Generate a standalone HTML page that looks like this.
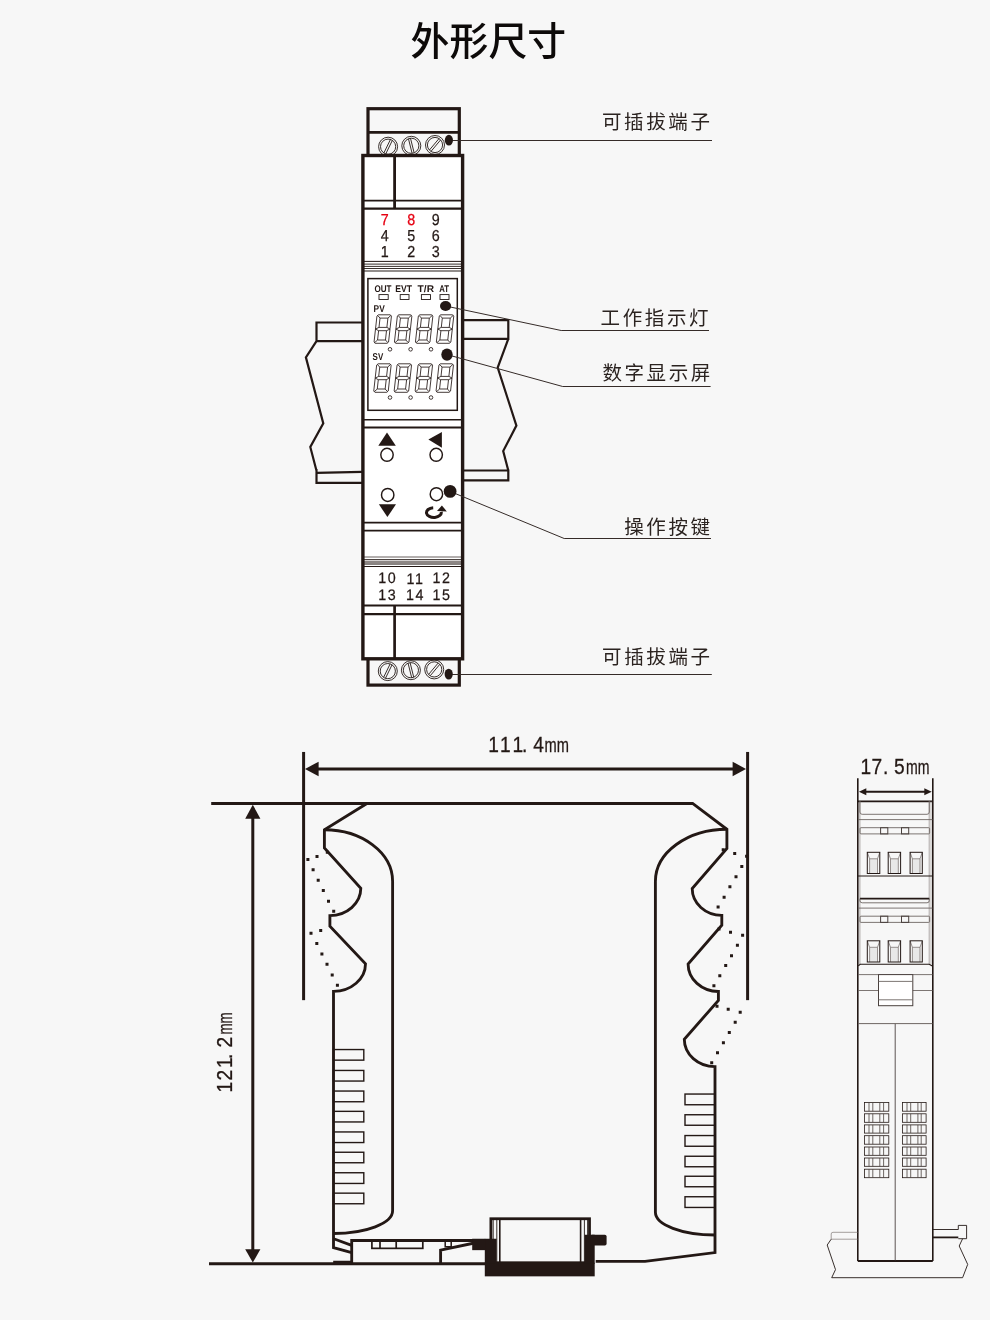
<!DOCTYPE html>
<html lang="zh-CN"><head><meta charset="utf-8"><title>外形尺寸</title>
<style>
html,body{margin:0;padding:0;background:#f7f7f7;}
body{width:990px;height:1320px;overflow:hidden;position:relative;font-family:"Liberation Sans","Noto Sans CJK SC",sans-serif;}
svg{position:absolute;left:0;top:0;display:block;will-change:transform;}
.t{font-family:"Liberation Sans","Noto Sans CJK SC",sans-serif;fill:#231815;}
.lab{font-family:"Liberation Sans","Noto Sans CJK SC",sans-serif;fill:#2b2320;font-size:19.5px;font-weight:400;letter-spacing:2.6px;}
.num{font-family:"Liberation Sans",sans-serif;fill:#231815;font-size:15.9px;stroke-width:0.25px;text-rendering:geometricPrecision;}
.dim{font-family:"Liberation Sans","Noto Sans CJK SC",sans-serif;fill:#231815;stroke:#231815;stroke-width:0.3px;font-size:22.3px;}
.led{font-family:"Liberation Sans",sans-serif;fill:#231815;font-weight:bold;font-size:9.7px;text-rendering:geometricPrecision;}
</style></head><body>
<svg width="990" height="1320" viewBox="0 0 990 1320">
<rect x="0" y="0" width="990" height="1320" fill="#f7f7f7"/>

<text class="t" x="488.4" y="54.7" text-anchor="middle" font-size="38.9" font-weight="500" style="fill:#0d0a09">外形尺寸</text>
<path d="M362,322.5 L316.5,322.5 L316.5,341.1 L362,341.1 M316.5,341.1 L305.9,357.4 L323.3,423.4 L310.3,447 L316.5,470.8 M362,471.9 L316.5,472.9 M316.5,469 L316.5,482.8 L362,482.8" stroke="#231815" stroke-width="2.2" fill="none" />
<path d="M464,320.2 L508.3,320.2 L508.3,338.9 L464,338.9 M508.3,338.9 L497.7,367.5 L516.4,425.6 L503.2,451.1 L508.3,470.5 M464,470.5 L508.3,470.5 L508.3,480.4 L464,480.4" stroke="#231815" stroke-width="2.2" fill="none" />
<rect x="368" y="108.7" width="91.3" height="47.3" stroke="#231815" stroke-width="3.2" fill="#f7f7f7" />
<line x1="368" y1="132.4" x2="459.3" y2="132.4" stroke="#231815" stroke-width="2.8" />
<rect x="368" y="657" width="91.3" height="28.1" stroke="#231815" stroke-width="3.2" fill="#f7f7f7" />
<circle cx="388.1" cy="146.7" r="9.5" fill="#f7f7f7" stroke="#231815" stroke-width="0.9"/>
<circle cx="388.1" cy="146.7" r="7.6" fill="none" stroke="#231815" stroke-width="0.9"/>
<line x1="383.91" y1="152.89" x2="390.4" y2="139.59" stroke="#231815" stroke-width="0.9" />
<line x1="385.8" y1="153.81" x2="392.29" y2="140.51" stroke="#231815" stroke-width="0.9" />
<circle cx="411.3" cy="145.8" r="9.5" fill="#f7f7f7" stroke="#231815" stroke-width="0.9"/>
<circle cx="411.3" cy="145.8" r="7.6" fill="none" stroke="#231815" stroke-width="0.9"/>
<line x1="412.07" y1="153.23" x2="408.49" y2="138.87" stroke="#231815" stroke-width="0.9" />
<line x1="414.11" y1="152.73" x2="410.53" y2="138.37" stroke="#231815" stroke-width="0.9" />
<circle cx="435" cy="145" r="9.5" fill="#f7f7f7" stroke="#231815" stroke-width="0.9"/>
<circle cx="435" cy="145" r="7.6" fill="none" stroke="#231815" stroke-width="0.9"/>
<line x1="429.44" y1="149.99" x2="438.95" y2="138.66" stroke="#231815" stroke-width="0.9" />
<line x1="431.05" y1="151.34" x2="440.56" y2="140.01" stroke="#231815" stroke-width="0.9" />
<circle cx="387.8" cy="671.1" r="9.5" fill="#f7f7f7" stroke="#231815" stroke-width="0.9"/>
<circle cx="387.8" cy="671.1" r="7.6" fill="none" stroke="#231815" stroke-width="0.9"/>
<line x1="383.61" y1="677.29" x2="390.1" y2="663.99" stroke="#231815" stroke-width="0.9" />
<line x1="385.5" y1="678.21" x2="391.99" y2="664.91" stroke="#231815" stroke-width="0.9" />
<circle cx="410.9" cy="670.2" r="9.5" fill="#f7f7f7" stroke="#231815" stroke-width="0.9"/>
<circle cx="410.9" cy="670.2" r="7.6" fill="none" stroke="#231815" stroke-width="0.9"/>
<line x1="411.67" y1="677.63" x2="408.09" y2="663.27" stroke="#231815" stroke-width="0.9" />
<line x1="413.71" y1="677.13" x2="410.13" y2="662.77" stroke="#231815" stroke-width="0.9" />
<circle cx="434.2" cy="669.4" r="9.5" fill="#f7f7f7" stroke="#231815" stroke-width="0.9"/>
<circle cx="434.2" cy="669.4" r="7.6" fill="none" stroke="#231815" stroke-width="0.9"/>
<line x1="428.64" y1="674.39" x2="438.15" y2="663.06" stroke="#231815" stroke-width="0.9" />
<line x1="430.25" y1="675.74" x2="439.76" y2="664.41" stroke="#231815" stroke-width="0.9" />
<rect x="362.9" y="155.5" width="99.7" height="503.3" stroke="#231815" stroke-width="0" fill="#fff" />
<line x1="394.6" y1="155" x2="394.6" y2="208.6" stroke="#231815" stroke-width="2.8" />
<line x1="363" y1="200.6" x2="462" y2="200.6" stroke="#231815" stroke-width="1.8" />
<line x1="363" y1="208.6" x2="462" y2="208.6" stroke="#231815" stroke-width="2.1" />
<g transform="translate(384.7,224.7) scale(0.9,1)"><text class="num" x="0" y="0" text-anchor="middle" style="font-size:15.9px;letter-spacing:0px;fill:#e60012;stroke:#e60012">7</text></g>
<g transform="translate(411.2,224.7) scale(0.9,1)"><text class="num" x="0" y="0" text-anchor="middle" style="font-size:15.9px;letter-spacing:0px;fill:#e60012;stroke:#e60012">8</text></g>
<g transform="translate(435.8,224.7) scale(0.9,1)"><text class="num" x="0" y="0" text-anchor="middle" style="font-size:15.9px;letter-spacing:0px;fill:#231815;stroke:#231815">9</text></g>
<g transform="translate(384.7,241.0) scale(0.9,1)"><text class="num" x="0" y="0" text-anchor="middle" style="font-size:15.9px;letter-spacing:0px;fill:#231815;stroke:#231815">4</text></g>
<g transform="translate(411.2,241.0) scale(0.9,1)"><text class="num" x="0" y="0" text-anchor="middle" style="font-size:15.9px;letter-spacing:0px;fill:#231815;stroke:#231815">5</text></g>
<g transform="translate(435.8,241.0) scale(0.9,1)"><text class="num" x="0" y="0" text-anchor="middle" style="font-size:15.9px;letter-spacing:0px;fill:#231815;stroke:#231815">6</text></g>
<g transform="translate(384.7,256.7) scale(0.9,1)"><text class="num" x="0" y="0" text-anchor="middle" style="font-size:15.9px;letter-spacing:0px;fill:#231815;stroke:#231815">1</text></g>
<g transform="translate(411.2,256.7) scale(0.9,1)"><text class="num" x="0" y="0" text-anchor="middle" style="font-size:15.9px;letter-spacing:0px;fill:#231815;stroke:#231815">2</text></g>
<g transform="translate(435.8,256.7) scale(0.9,1)"><text class="num" x="0" y="0" text-anchor="middle" style="font-size:15.9px;letter-spacing:0px;fill:#231815;stroke:#231815">3</text></g>
<line x1="363" y1="261.4" x2="462" y2="261.4" stroke="#231815" stroke-width="1.0" />
<line x1="363" y1="264.2" x2="462" y2="264.2" stroke="#5d5653" stroke-width="1.3" />
<line x1="363" y1="266.4" x2="462" y2="266.4" stroke="#231815" stroke-width="0.9" />
<line x1="363" y1="268.5" x2="462" y2="268.5" stroke="#231815" stroke-width="0.9" />
<line x1="363" y1="270.9" x2="462" y2="270.9" stroke="#6e6764" stroke-width="1.5" />
<rect x="367.9" y="278.6" width="89.4" height="131.7" stroke="#231815" stroke-width="1.5" fill="none" />
<text class="led" x="374.5" y="291.8" textLength="17.0" lengthAdjust="spacingAndGlyphs">OUT</text>
<text class="led" x="395.3" y="291.8" textLength="16.7" lengthAdjust="spacingAndGlyphs">EVT</text>
<text class="led" x="417.6" y="291.8" textLength="16.4" lengthAdjust="spacingAndGlyphs">T/R</text>
<text class="led" x="439.2" y="291.8" textLength="9.8" lengthAdjust="spacingAndGlyphs">AT</text>
<rect x="379" y="294.6" width="9.2" height="4.9" stroke="#231815" stroke-width="0.9" fill="none" />
<rect x="400.2" y="294.6" width="8.8" height="4.9" stroke="#231815" stroke-width="0.9" fill="none" />
<rect x="421.4" y="294.6" width="9.1" height="4.9" stroke="#231815" stroke-width="0.9" fill="none" />
<rect x="440" y="294.6" width="9" height="4.9" stroke="#231815" stroke-width="0.9" fill="none" />
<text class="led" x="373.6" y="311.9" textLength="11.1" lengthAdjust="spacingAndGlyphs" style="font-size:9.9px">PV</text>
<text class="led" x="372.6" y="359.9" textLength="10.6" lengthAdjust="spacingAndGlyphs" style="font-size:9.9px">SV</text>
<path d="M378.40,314.80 L390.30,314.80 L391.45,316.10 L390.09,328.27 L390.00,329.05 L388.55,342.00 L387.10,343.30 L375.20,343.30 L374.05,342.00 L375.50,329.05 L376.95,316.10Z M380.03,318.10 L387.93,318.10 L386.89,327.40 L378.99,327.40Z M378.61,330.70 L386.51,330.70 L385.47,340.00 L377.57,340.00Z M377.68,315.45 L380.03,318.10 M390.88,315.45 L387.93,318.10 M387.82,342.65 L385.47,340.00 M374.62,342.65 L377.57,340.00 M375.50,329.05 L378.99,327.40 M375.50,329.05 L378.61,330.70 M390.00,329.05 L386.89,327.40 M390.00,329.05 L386.51,330.70 " stroke="#231815" stroke-width="0.85" fill="none" stroke-linejoin="round"/>
<path d="M378.10,363.80 L390.00,363.80 L391.15,365.10 L389.79,377.27 L389.70,378.05 L388.25,391.00 L386.80,392.30 L374.90,392.30 L373.75,391.00 L375.20,378.05 L376.65,365.10Z M379.73,367.10 L387.63,367.10 L386.59,376.40 L378.69,376.40Z M378.31,379.70 L386.21,379.70 L385.17,389.00 L377.27,389.00Z M377.38,364.45 L379.73,367.10 M390.58,364.45 L387.63,367.10 M387.52,391.65 L385.17,389.00 M374.32,391.65 L377.27,389.00 M375.20,378.05 L378.69,376.40 M375.20,378.05 L378.31,379.70 M389.70,378.05 L386.59,376.40 M389.70,378.05 L386.21,379.70 " stroke="#231815" stroke-width="0.85" fill="none" stroke-linejoin="round"/>
<path d="M398.80,314.80 L410.70,314.80 L411.85,316.10 L410.49,328.27 L410.40,329.05 L408.95,342.00 L407.50,343.30 L395.60,343.30 L394.45,342.00 L395.90,329.05 L397.35,316.10Z M400.43,318.10 L408.33,318.10 L407.29,327.40 L399.39,327.40Z M399.01,330.70 L406.91,330.70 L405.87,340.00 L397.97,340.00Z M398.08,315.45 L400.43,318.10 M411.28,315.45 L408.33,318.10 M408.22,342.65 L405.87,340.00 M395.02,342.65 L397.97,340.00 M395.90,329.05 L399.39,327.40 M395.90,329.05 L399.01,330.70 M410.40,329.05 L407.29,327.40 M410.40,329.05 L406.91,330.70 " stroke="#231815" stroke-width="0.85" fill="none" stroke-linejoin="round"/>
<path d="M398.50,363.80 L410.40,363.80 L411.55,365.10 L410.19,377.27 L410.10,378.05 L408.65,391.00 L407.20,392.30 L395.30,392.30 L394.15,391.00 L395.60,378.05 L397.05,365.10Z M400.13,367.10 L408.03,367.10 L406.99,376.40 L399.09,376.40Z M398.71,379.70 L406.61,379.70 L405.57,389.00 L397.67,389.00Z M397.78,364.45 L400.13,367.10 M410.98,364.45 L408.03,367.10 M407.92,391.65 L405.57,389.00 M394.72,391.65 L397.67,389.00 M395.60,378.05 L399.09,376.40 M395.60,378.05 L398.71,379.70 M410.10,378.05 L406.99,376.40 M410.10,378.05 L406.61,379.70 " stroke="#231815" stroke-width="0.85" fill="none" stroke-linejoin="round"/>
<path d="M419.80,314.80 L431.70,314.80 L432.85,316.10 L431.49,328.27 L431.40,329.05 L429.95,342.00 L428.50,343.30 L416.60,343.30 L415.45,342.00 L416.90,329.05 L418.35,316.10Z M421.43,318.10 L429.33,318.10 L428.29,327.40 L420.39,327.40Z M420.01,330.70 L427.91,330.70 L426.87,340.00 L418.97,340.00Z M419.08,315.45 L421.43,318.10 M432.28,315.45 L429.33,318.10 M429.22,342.65 L426.87,340.00 M416.02,342.65 L418.97,340.00 M416.90,329.05 L420.39,327.40 M416.90,329.05 L420.01,330.70 M431.40,329.05 L428.29,327.40 M431.40,329.05 L427.91,330.70 " stroke="#231815" stroke-width="0.85" fill="none" stroke-linejoin="round"/>
<path d="M419.50,363.80 L431.40,363.80 L432.55,365.10 L431.19,377.27 L431.10,378.05 L429.65,391.00 L428.20,392.30 L416.30,392.30 L415.15,391.00 L416.60,378.05 L418.05,365.10Z M421.13,367.10 L429.03,367.10 L427.99,376.40 L420.09,376.40Z M419.71,379.70 L427.61,379.70 L426.57,389.00 L418.67,389.00Z M418.78,364.45 L421.13,367.10 M431.98,364.45 L429.03,367.10 M428.92,391.65 L426.57,389.00 M415.72,391.65 L418.67,389.00 M416.60,378.05 L420.09,376.40 M416.60,378.05 L419.71,379.70 M431.10,378.05 L427.99,376.40 M431.10,378.05 L427.61,379.70 " stroke="#231815" stroke-width="0.85" fill="none" stroke-linejoin="round"/>
<path d="M440.70,314.80 L452.60,314.80 L453.75,316.10 L452.39,328.27 L452.30,329.05 L450.85,342.00 L449.40,343.30 L437.50,343.30 L436.35,342.00 L437.80,329.05 L439.25,316.10Z M442.33,318.10 L450.23,318.10 L449.19,327.40 L441.29,327.40Z M440.91,330.70 L448.81,330.70 L447.77,340.00 L439.87,340.00Z M439.98,315.45 L442.33,318.10 M453.18,315.45 L450.23,318.10 M450.12,342.65 L447.77,340.00 M436.92,342.65 L439.87,340.00 M437.80,329.05 L441.29,327.40 M437.80,329.05 L440.91,330.70 M452.30,329.05 L449.19,327.40 M452.30,329.05 L448.81,330.70 " stroke="#231815" stroke-width="0.85" fill="none" stroke-linejoin="round"/>
<path d="M440.40,363.80 L452.30,363.80 L453.45,365.10 L452.09,377.27 L452.00,378.05 L450.55,391.00 L449.10,392.30 L437.20,392.30 L436.05,391.00 L437.50,378.05 L438.95,365.10Z M442.03,367.10 L449.93,367.10 L448.89,376.40 L440.99,376.40Z M440.61,379.70 L448.51,379.70 L447.47,389.00 L439.57,389.00Z M439.68,364.45 L442.03,367.10 M452.88,364.45 L449.93,367.10 M449.82,391.65 L447.47,389.00 M436.62,391.65 L439.57,389.00 M437.50,378.05 L440.99,376.40 M437.50,378.05 L440.61,379.70 M452.00,378.05 L448.89,376.40 M452.00,378.05 L448.51,379.70 " stroke="#231815" stroke-width="0.85" fill="none" stroke-linejoin="round"/>
<circle cx="390" cy="349.3" r="1.8" fill="none" stroke="#231815" stroke-width="0.85"/>
<circle cx="390" cy="397.5" r="1.8" fill="none" stroke="#231815" stroke-width="0.85"/>
<circle cx="410.6" cy="349.3" r="1.8" fill="none" stroke="#231815" stroke-width="0.85"/>
<circle cx="410.6" cy="397.5" r="1.8" fill="none" stroke="#231815" stroke-width="0.85"/>
<circle cx="431" cy="349.3" r="1.8" fill="none" stroke="#231815" stroke-width="0.85"/>
<circle cx="431" cy="397.5" r="1.8" fill="none" stroke="#231815" stroke-width="0.85"/>
<line x1="363" y1="419.7" x2="462" y2="419.7" stroke="#231815" stroke-width="1.5" />
<line x1="363" y1="427.5" x2="462" y2="427.5" stroke="#231815" stroke-width="1.8" />
<polygon points="387,432.6 378.3,445.7 395.8,445.7" fill="#231815"/>
<polygon points="428.4,439.6 441.9,431.9 441.9,447.7" fill="#231815"/>
<polygon points="378.9,504.3 396,504.3 387.4,517.1" fill="#231815"/>
<ellipse cx="387" cy="454.8" rx="6.2" ry="6.5" fill="#fff" stroke="#231815" stroke-width="1.45"/>
<ellipse cx="436.2" cy="454.8" rx="6.2" ry="6.5" fill="#fff" stroke="#231815" stroke-width="1.45"/>
<ellipse cx="387.7" cy="494.9" rx="6.2" ry="6.5" fill="#fff" stroke="#231815" stroke-width="1.45"/>
<ellipse cx="436.4" cy="494.2" rx="6.2" ry="6.5" fill="#fff" stroke="#231815" stroke-width="1.45"/>
<path d="M433.2,507.7 A7.4,4.9 0 1 0 441.2,511.8" stroke="#231815" stroke-width="3.0" fill="none" />
<polygon points="441.9,505.4 446.8,511.4 437,511" fill="#231815"/>
<line x1="363" y1="522.6" x2="462" y2="522.6" stroke="#231815" stroke-width="1.7" />
<line x1="363" y1="530.6" x2="462" y2="530.6" stroke="#231815" stroke-width="1.6" />
<line x1="363" y1="556.9" x2="462" y2="556.9" stroke="#9a9593" stroke-width="1.5" />
<line x1="363" y1="559.6" x2="462" y2="559.6" stroke="#231815" stroke-width="0.9" />
<line x1="363" y1="562.1" x2="462" y2="562.1" stroke="#8e8886" stroke-width="2.7" />
<line x1="363" y1="564.1" x2="462" y2="564.1" stroke="#231815" stroke-width="0.9" />
<line x1="363" y1="566.5" x2="462" y2="566.5" stroke="#231815" stroke-width="1.1" />
<g transform="translate(387.7,583.2) scale(0.94,1)"><text class="num" x="0" y="0" text-anchor="middle" style="font-size:15.2px;letter-spacing:1.5px;fill:#231815;stroke:#231815">10</text></g>
<g transform="translate(415.4,584.1) scale(0.94,1)"><text class="num" x="0" y="0" text-anchor="middle" style="font-size:15.2px;letter-spacing:1.5px;fill:#231815;stroke:#231815">11</text></g>
<g transform="translate(441.9,583.2) scale(0.94,1)"><text class="num" x="0" y="0" text-anchor="middle" style="font-size:15.2px;letter-spacing:1.5px;fill:#231815;stroke:#231815">12</text></g>
<g transform="translate(387.7,600.1) scale(0.94,1)"><text class="num" x="0" y="0" text-anchor="middle" style="font-size:15.2px;letter-spacing:1.5px;fill:#231815;stroke:#231815">13</text></g>
<g transform="translate(415.4,600.1) scale(0.94,1)"><text class="num" x="0" y="0" text-anchor="middle" style="font-size:15.2px;letter-spacing:1.5px;fill:#231815;stroke:#231815">14</text></g>
<g transform="translate(441.9,600.1) scale(0.94,1)"><text class="num" x="0" y="0" text-anchor="middle" style="font-size:15.2px;letter-spacing:1.5px;fill:#231815;stroke:#231815">15</text></g>
<line x1="363" y1="605.6" x2="462" y2="605.6" stroke="#231815" stroke-width="2" />
<line x1="363" y1="614.2" x2="462" y2="614.2" stroke="#231815" stroke-width="2.2" />
<line x1="394.6" y1="605.6" x2="394.6" y2="658" stroke="#231815" stroke-width="2.7" />
<rect x="362.9" y="155.5" width="99.7" height="503.3" stroke="#231815" stroke-width="3.4" fill="none" />
<path d="M449,140.5 L712,140.5" stroke="#352b28" stroke-width="1.0" fill="none" />
<path d="M445.6,306 L561.2,330.5 L709,330.5" stroke="#352b28" stroke-width="1.0" fill="none" />
<path d="M447,354.6 L562.7,386.5 L710.6,386.5" stroke="#352b28" stroke-width="1.0" fill="none" />
<path d="M450.1,491.4 L564.2,538.5 L711,538.5" stroke="#352b28" stroke-width="1.0" fill="none" />
<path d="M449,674.5 L711.8,674.5" stroke="#352b28" stroke-width="1.0" fill="none" />
<ellipse cx="448.9" cy="140.2" rx="4.1" ry="5.4" fill="#231815"/>
<ellipse cx="445.6" cy="306" rx="5.6" ry="5" fill="#231815"/>
<ellipse cx="447" cy="354.6" rx="5.7" ry="6.2" fill="#231815"/>
<circle cx="450.1" cy="491.4" r="6.4" fill="#231815"/>
<ellipse cx="448.7" cy="674.1" rx="4.1" ry="5.4" fill="#231815"/>
<text class="lab" x="712.5" y="129.2" text-anchor="end">可插拔端子</text>
<text class="lab" x="711.1" y="325.0" text-anchor="end">工作指示灯</text>
<text class="lab" x="712.9" y="379.8" text-anchor="end">数字显示屏</text>
<text class="lab" x="712.6" y="534.2" text-anchor="end">操作按键</text>
<text class="lab" x="712.6" y="663.9" text-anchor="end">可插拔端子</text>
<g transform="translate(0,0.75)">
<line x1="303.6" y1="751.2" x2="303.6" y2="999.4" stroke="#231815" stroke-width="3.0" />
<line x1="747.6" y1="751.2" x2="747.6" y2="999.4" stroke="#231815" stroke-width="3.0" />
<line x1="312" y1="768.2" x2="740" y2="768.2" stroke="#231815" stroke-width="3.0" />
<polygon points="305,768.2 318.6,760.9 318.6,775.5" fill="#231815"/>
<polygon points="746,768.2 732.6,760.9 732.6,775.5" fill="#231815"/>
<line x1="211.2" y1="802.7" x2="392" y2="802.7" stroke="#231815" stroke-width="3.0" />
<line x1="209" y1="1263" x2="486" y2="1263" stroke="#231815" stroke-width="3.0" />
<line x1="252.8" y1="812" x2="252.8" y2="1254" stroke="#231815" stroke-width="3.0" />
<polygon points="252.8,803.9 245.2,818 260.4,818" fill="#231815"/>
<polygon points="252.8,1261.8 245.2,1248.6 260.4,1248.6" fill="#231815"/>
</g>
<g transform="translate(488.3,751.6) rotate(0) scale(0.86,1)"><text class="dim" x="0.00 13.49 28.14 39.07 52.33" y="0">111.4<tspan x="65.35" font-size="20.6" textLength="28.37" lengthAdjust="spacingAndGlyphs">mm</tspan></text></g>
<g transform="translate(232.3,1092.4) rotate(-90) scale(0.86,1)"><text class="dim" x="0.00 13.95 28.37 38.95 52.33" y="0">121.2<tspan x="67.44" font-size="20.6" textLength="25.58" lengthAdjust="spacingAndGlyphs">mm</tspan></text></g>
<g transform="translate(860.6,774.4) rotate(0) scale(0.86,1)"><text class="dim" x="0.00 12.79 26.16 38.95" y="0">17.5<tspan x="52.91" font-size="20.6" textLength="27.33" lengthAdjust="spacingAndGlyphs">mm</tspan></text></g>
<g transform="translate(0.2,0.75)">
<path d="M366.7,802.7 L692.4,802.7 L726.7,828.5 L726.7,847.6 L692,887.8 A29.6,26.8 0 0 0 721.6,914.6 L721.6,924.5 L687.9,963.2 A30.3,27.5 0 0 0 718.2,990.7 L718.2,999.6 L684.1,1038.6 A30.7,27.3 0 0 0 714.8,1065.9 L714.8,1251.8 L644.8,1260.6 L595.5,1260.6" stroke="#231815" stroke-width="2.85" fill="none" stroke-linejoin="miter"/>
<path d="M366.7,802.7 L324.2,829 L324.2,847.3 L360.6,887.6 A30.9,27.2 0 0 1 329.7,914.8 L329.7,925.5 L365.3,963 A32,27.6 0 0 1 333.3,990.6 L333.3,1247 L351.5,1251.9" stroke="#231815" stroke-width="2.85" fill="none" />
<path d="M333.5,1238 L351.5,1244.6" stroke="#231815" stroke-width="2.85" fill="none" />
<path d="M324.2,829 A68.2,51.6 0 0 1 392.4,880.6 L392.4,1210 A59.1,22.7 0 0 1 333.3,1232.7" stroke="#231815" stroke-width="2.85" fill="none" />
<path d="M726.7,828.5 A71.5,52.1 0 0 0 655.2,880.6 L655.2,1211.5 A59.6,22.7 0 0 0 714.8,1234.2" stroke="#231815" stroke-width="2.85" fill="none" />
<path d="M327.1,851.5h0.01 M316.8,855.8h0.01 M307.7,858.8h0.01 M312.9,869.1h0.01 M318,879.4h0.01 M323.1,889.7h0.01 M328.3,900.4h0.01 M333.5,910.5h0.01 M320.5,929.7h0.01 M310.8,932.4h0.01 M316.6,942.8h0.01 M321.7,953.3h0.01 M326.8,963.6h0.01 M332,974.2h0.01 M337.2,984.5h0.01 M723,849.1h0.01 M734.5,852.7h0.01 M746.4,855.5h0.01 M741.6,865.7h0.01 M735.8,876h0.01 M729.7,886h0.01 M723.9,896.4h0.01 M717.9,906.3h0.01 M718.8,928.2h0.01 M730.3,931.5h0.01 M742.4,934.5h0.01 M737.2,944.6h0.01 M731.3,954.9h0.01 M725.5,964.8h0.01 M719.6,974.9h0.01 M713.7,985.1h0.01 M716.8,1005.5h0.01 M728,1008.5h0.01 M740,1011.5h0.01 M735,1021.6h0.01 M729.1,1031.8h0.01 M723.2,1042h0.01 M717.3,1052.1h0.01 M711.5,1062.1h0.01" stroke="#231815" stroke-width="3.0" fill="none" stroke-linecap="square"/>
<rect x="333.3" y="1048.8" width="30.3" height="10.6" stroke="#231815" stroke-width="1.4" fill="none" />
<rect x="333.3" y="1069.7" width="30.3" height="10.6" stroke="#231815" stroke-width="1.4" fill="none" />
<rect x="333.3" y="1090.3" width="30.3" height="10.7" stroke="#231815" stroke-width="1.4" fill="none" />
<rect x="333.3" y="1110.6" width="30.3" height="10.6" stroke="#231815" stroke-width="1.4" fill="none" />
<rect x="333.3" y="1131.2" width="30.3" height="10.6" stroke="#231815" stroke-width="1.4" fill="none" />
<rect x="333.3" y="1151.5" width="30.3" height="10.5" stroke="#231815" stroke-width="1.4" fill="none" />
<rect x="333.3" y="1172" width="30.3" height="10.7" stroke="#231815" stroke-width="1.4" fill="none" />
<rect x="333.3" y="1192.4" width="30.3" height="10.6" stroke="#231815" stroke-width="1.4" fill="none" />
<rect x="684.8" y="1093.3" width="30.0" height="10.7" stroke="#231815" stroke-width="1.4" fill="none" />
<rect x="684.8" y="1114" width="30.0" height="10.5" stroke="#231815" stroke-width="1.4" fill="none" />
<rect x="684.8" y="1134.8" width="30.0" height="10.7" stroke="#231815" stroke-width="1.4" fill="none" />
<rect x="684.8" y="1155.5" width="30.0" height="10.5" stroke="#231815" stroke-width="1.4" fill="none" />
<rect x="684.8" y="1175.5" width="30.0" height="10.5" stroke="#231815" stroke-width="1.4" fill="none" />
<rect x="684.8" y="1196" width="30.0" height="10.7" stroke="#231815" stroke-width="1.4" fill="none" />
<path d="M351.5,1263 L351.5,1239.7 L474,1239.7" stroke="#231815" stroke-width="2.85" fill="none" />
<rect x="371.7" y="1239.7" width="50.9" height="7.9" stroke="#231815" stroke-width="1.7" fill="none" />
<line x1="379.8" y1="1239.7" x2="379.8" y2="1247.6" stroke="#231815" stroke-width="1.7" />
<line x1="396" y1="1239.7" x2="396" y2="1247.6" stroke="#231815" stroke-width="1.7" />
<rect x="445" y="1239.7" width="6" height="6.3" stroke="#231815" stroke-width="1.5" fill="none" />
<path d="M473,1242.5 L440.4,1249.4 L440.4,1263" stroke="#231815" stroke-width="2.85" fill="none" />
<rect x="333" y="1260" width="18.5" height="4.2" stroke="#231815" stroke-width="0" fill="#231815" />
<rect x="490.7" y="1218.0" width="98.6" height="44.0" stroke="#231815" stroke-width="2.8" fill="none" />
<line x1="493" y1="1218" x2="493" y2="1262" stroke="#231815" stroke-width="0.9" />
<line x1="496.6" y1="1218" x2="496.6" y2="1262" stroke="#231815" stroke-width="0.9" />
<line x1="499.6" y1="1218" x2="499.6" y2="1262" stroke="#231815" stroke-width="1.6" />
<line x1="580.4" y1="1218" x2="580.4" y2="1262" stroke="#231815" stroke-width="1.6" />
<line x1="584.2" y1="1218" x2="584.2" y2="1262" stroke="#231815" stroke-width="0.9" />
<line x1="587.4" y1="1218" x2="587.4" y2="1262" stroke="#231815" stroke-width="0.9" />
<rect x="484.6" y="1262" width="109.9" height="13.6" stroke="#231815" stroke-width="0" fill="#231815" />
<rect x="484.6" y="1238" width="11.8" height="25" stroke="#231815" stroke-width="0" fill="#231815" />
<rect x="472" y="1238" width="13" height="11.4" stroke="#231815" stroke-width="0" fill="#231815" />
<rect x="584.4" y="1234" width="10.1" height="29" stroke="#231815" stroke-width="0" fill="#231815" />
<rect x="590" y="1234" width="16.4" height="10.8" rx="1.8" fill="#231815"/>
</g>
<line x1="857.8" y1="778.3" x2="857.8" y2="1261" stroke="#231815" stroke-width="1.6" />
<line x1="932.8" y1="778.3" x2="932.8" y2="1261" stroke="#231815" stroke-width="1.6" />
<line x1="864" y1="791.7" x2="926" y2="791.7" stroke="#231815" stroke-width="2" />
<polygon points="858.9,791.7 866.3,788.2 866.3,795.2" fill="#231815"/>
<polygon points="931.7,791.7 924.3,788.2 924.3,795.2" fill="#231815"/>
<line x1="857.8" y1="801.4" x2="932.8" y2="801.4" stroke="#231815" stroke-width="1.7" />
<line x1="857.8" y1="1261" x2="932.8" y2="1261" stroke="#231815" stroke-width="1.8" />
<line x1="895.2" y1="1023.6" x2="895.2" y2="1261" stroke="#352b28" stroke-width="0.8" />
<line x1="859.9" y1="801.4" x2="859.9" y2="964.6" stroke="#9a9492" stroke-width="0.8" />
<line x1="929.2" y1="801.4" x2="929.2" y2="964.6" stroke="#9a9492" stroke-width="0.8" />
<line x1="931" y1="801.4" x2="931" y2="964.6" stroke="#9a9492" stroke-width="0.6" />
<path d="M859.9,801.4 L859.9,812.0 Q859.9,814.3 862.2,814.3 L927,814.3 Q929.3,814.3 929.3,812.0 L929.3,801.4" stroke="#6e6663" stroke-width="0.9" fill="none" />
<line x1="858" y1="819.6" x2="932.5" y2="819.6" stroke="#6e6663" stroke-width="0.9" />
<rect x="860" y="827.70" width="69.6" height="6.2" rx="1" fill="none" stroke="#6e6663" stroke-width="0.9"/>
<rect x="880.6" y="827.7" width="7.2" height="6.2" stroke="#4a413e" stroke-width="1.0" fill="none" />
<rect x="901.5" y="827.7" width="7.2" height="6.2" stroke="#4a413e" stroke-width="1.0" fill="none" />
<rect x="869.6" y="858.8" width="7.9" height="14.6" stroke="#231815" stroke-width="0" fill="#e8e8e8" />
<path d="M867.3,852.3 L869.5999999999999,858.8 L877.5,858.8 L879.8,852.3 M869.5999999999999,858.8 L869.5999999999999,873.4 M877.5,858.8 L877.5,873.4" stroke="#6e6663" stroke-width="0.7" fill="none" />
<rect x="867.3" y="852.3" width="12.5" height="21.2" stroke="#231815" stroke-width="1.0" fill="none" />
<rect x="890.5" y="858.8" width="7.8" height="14.6" stroke="#231815" stroke-width="0" fill="#e8e8e8" />
<path d="M888.2,852.3 L890.5,858.8 L898.3000000000001,858.8 L900.6,852.3 M890.5,858.8 L890.5,873.4 M898.3000000000001,858.8 L898.3000000000001,873.4" stroke="#6e6663" stroke-width="0.7" fill="none" />
<rect x="888.2" y="852.3" width="12.4" height="21.2" stroke="#231815" stroke-width="1.0" fill="none" />
<rect x="912.4" y="858.8" width="7.6" height="14.6" stroke="#231815" stroke-width="0" fill="#e8e8e8" />
<path d="M910.1,852.3 L912.4,858.8 L920.0,858.8 L922.3,852.3 M912.4,858.8 L912.4,873.4 M920.0,858.8 L920.0,873.4" stroke="#6e6663" stroke-width="0.7" fill="none" />
<rect x="910.1" y="852.3" width="12.2" height="21.2" stroke="#231815" stroke-width="1.0" fill="none" />
<line x1="858" y1="876.0" x2="932.5" y2="876.0" stroke="#231815" stroke-width="1.1" />
<line x1="860" y1="898.6" x2="929.3" y2="898.6" stroke="#231815" stroke-width="1.6" />
<path d="M859.9,898.6 L859.9,900.5 Q859.9,902.8 862.2,902.8 L927,902.8 Q929.3,902.8 929.3,900.5 L929.3,898.6" stroke="#6e6663" stroke-width="0.9" fill="none" />
<line x1="858" y1="908.1" x2="932.5" y2="908.1" stroke="#6e6663" stroke-width="0.9" />
<rect x="860" y="916.20" width="69.6" height="6.2" rx="1" fill="none" stroke="#6e6663" stroke-width="0.9"/>
<rect x="880.6" y="916.2" width="7.2" height="6.2" stroke="#4a413e" stroke-width="1.0" fill="none" />
<rect x="901.5" y="916.2" width="7.2" height="6.2" stroke="#4a413e" stroke-width="1.0" fill="none" />
<rect x="869.6" y="947.3" width="7.9" height="14.6" stroke="#231815" stroke-width="0" fill="#e8e8e8" />
<path d="M867.3,940.8 L869.5999999999999,947.3 L877.5,947.3 L879.8,940.8 M869.5999999999999,947.3 L869.5999999999999,961.9 M877.5,947.3 L877.5,961.9" stroke="#6e6663" stroke-width="0.7" fill="none" />
<rect x="867.3" y="940.8" width="12.5" height="21.2" stroke="#231815" stroke-width="1.0" fill="none" />
<rect x="890.5" y="947.3" width="7.8" height="14.6" stroke="#231815" stroke-width="0" fill="#e8e8e8" />
<path d="M888.2,940.8 L890.5,947.3 L898.3000000000001,947.3 L900.6,940.8 M890.5,947.3 L890.5,961.9 M898.3000000000001,947.3 L898.3000000000001,961.9" stroke="#6e6663" stroke-width="0.7" fill="none" />
<rect x="888.2" y="940.8" width="12.4" height="21.2" stroke="#231815" stroke-width="1.0" fill="none" />
<rect x="912.4" y="947.3" width="7.6" height="14.6" stroke="#231815" stroke-width="0" fill="#e8e8e8" />
<path d="M910.1,940.8 L912.4,947.3 L920.0,947.3 L922.3,940.8 M912.4,947.3 L912.4,961.9 M920.0,947.3 L920.0,961.9" stroke="#6e6663" stroke-width="0.7" fill="none" />
<rect x="910.1" y="940.8" width="12.2" height="21.2" stroke="#231815" stroke-width="1.0" fill="none" />
<path d="M858.3,965.9 L860.2,964.3 L929.2,964.3 L932.3,965.9" stroke="#231815" stroke-width="1.1" fill="none" />
<line x1="858" y1="974.6" x2="932.5" y2="974.6" stroke="#6e6663" stroke-width="0.9" />
<line x1="858" y1="990.5" x2="932.5" y2="990.5" stroke="#6e6663" stroke-width="0.9" />
<line x1="858" y1="1023.6" x2="932.5" y2="1023.6" stroke="#6e6663" stroke-width="1.0" />
<rect x="878.5" y="974.6" width="34.3" height="31.1" stroke="#4a413e" stroke-width="1.0" fill="#fff" />
<line x1="878.5" y1="981.4" x2="912.8" y2="981.4" stroke="#6e6663" stroke-width="0.9" />
<line x1="878.5" y1="999.8" x2="912.8" y2="999.8" stroke="#6e6663" stroke-width="0.9" />
<rect x="864.6" y="1102.5" width="24.2" height="8.7" stroke="#231815" stroke-width="0.8" fill="none" />
<line x1="869" y1="1102.5" x2="869" y2="1111.2" stroke="#4a413e" stroke-width="0.8" />
<line x1="872.8" y1="1102.5" x2="872.8" y2="1111.2" stroke="#4a413e" stroke-width="0.8" />
<line x1="879.8" y1="1102.5" x2="879.8" y2="1111.2" stroke="#4a413e" stroke-width="0.8" />
<line x1="883.6" y1="1102.5" x2="883.6" y2="1111.2" stroke="#4a413e" stroke-width="0.8" />
<rect x="902.4" y="1102.5" width="23.7" height="8.7" stroke="#231815" stroke-width="0.8" fill="none" />
<line x1="907" y1="1102.5" x2="907" y2="1111.2" stroke="#4a413e" stroke-width="0.8" />
<line x1="910.7" y1="1102.5" x2="910.7" y2="1111.2" stroke="#4a413e" stroke-width="0.8" />
<line x1="917.9" y1="1102.5" x2="917.9" y2="1111.2" stroke="#4a413e" stroke-width="0.8" />
<line x1="921.2" y1="1102.5" x2="921.2" y2="1111.2" stroke="#4a413e" stroke-width="0.8" />
<rect x="864.6" y="1113.8" width="24.2" height="8.5" stroke="#231815" stroke-width="0.8" fill="none" />
<line x1="869" y1="1113.8" x2="869" y2="1122.3" stroke="#4a413e" stroke-width="0.8" />
<line x1="872.8" y1="1113.8" x2="872.8" y2="1122.3" stroke="#4a413e" stroke-width="0.8" />
<line x1="879.8" y1="1113.8" x2="879.8" y2="1122.3" stroke="#4a413e" stroke-width="0.8" />
<line x1="883.6" y1="1113.8" x2="883.6" y2="1122.3" stroke="#4a413e" stroke-width="0.8" />
<rect x="902.4" y="1113.8" width="23.7" height="8.5" stroke="#231815" stroke-width="0.8" fill="none" />
<line x1="907" y1="1113.8" x2="907" y2="1122.3" stroke="#4a413e" stroke-width="0.8" />
<line x1="910.7" y1="1113.8" x2="910.7" y2="1122.3" stroke="#4a413e" stroke-width="0.8" />
<line x1="917.9" y1="1113.8" x2="917.9" y2="1122.3" stroke="#4a413e" stroke-width="0.8" />
<line x1="921.2" y1="1113.8" x2="921.2" y2="1122.3" stroke="#4a413e" stroke-width="0.8" />
<rect x="864.6" y="1124.9" width="24.2" height="8.2" stroke="#231815" stroke-width="0.8" fill="none" />
<line x1="869" y1="1124.9" x2="869" y2="1133.1" stroke="#4a413e" stroke-width="0.8" />
<line x1="872.8" y1="1124.9" x2="872.8" y2="1133.1" stroke="#4a413e" stroke-width="0.8" />
<line x1="879.8" y1="1124.9" x2="879.8" y2="1133.1" stroke="#4a413e" stroke-width="0.8" />
<line x1="883.6" y1="1124.9" x2="883.6" y2="1133.1" stroke="#4a413e" stroke-width="0.8" />
<rect x="902.4" y="1124.9" width="23.7" height="8.2" stroke="#231815" stroke-width="0.8" fill="none" />
<line x1="907" y1="1124.9" x2="907" y2="1133.1" stroke="#4a413e" stroke-width="0.8" />
<line x1="910.7" y1="1124.9" x2="910.7" y2="1133.1" stroke="#4a413e" stroke-width="0.8" />
<line x1="917.9" y1="1124.9" x2="917.9" y2="1133.1" stroke="#4a413e" stroke-width="0.8" />
<line x1="921.2" y1="1124.9" x2="921.2" y2="1133.1" stroke="#4a413e" stroke-width="0.8" />
<rect x="864.6" y="1135.7" width="24.2" height="8.5" stroke="#231815" stroke-width="0.8" fill="none" />
<line x1="869" y1="1135.7" x2="869" y2="1144.2" stroke="#4a413e" stroke-width="0.8" />
<line x1="872.8" y1="1135.7" x2="872.8" y2="1144.2" stroke="#4a413e" stroke-width="0.8" />
<line x1="879.8" y1="1135.7" x2="879.8" y2="1144.2" stroke="#4a413e" stroke-width="0.8" />
<line x1="883.6" y1="1135.7" x2="883.6" y2="1144.2" stroke="#4a413e" stroke-width="0.8" />
<rect x="902.4" y="1135.7" width="23.7" height="8.5" stroke="#231815" stroke-width="0.8" fill="none" />
<line x1="907" y1="1135.7" x2="907" y2="1144.2" stroke="#4a413e" stroke-width="0.8" />
<line x1="910.7" y1="1135.7" x2="910.7" y2="1144.2" stroke="#4a413e" stroke-width="0.8" />
<line x1="917.9" y1="1135.7" x2="917.9" y2="1144.2" stroke="#4a413e" stroke-width="0.8" />
<line x1="921.2" y1="1135.7" x2="921.2" y2="1144.2" stroke="#4a413e" stroke-width="0.8" />
<rect x="864.6" y="1147" width="24.2" height="8.3" stroke="#231815" stroke-width="0.8" fill="none" />
<line x1="869" y1="1147" x2="869" y2="1155.3" stroke="#4a413e" stroke-width="0.8" />
<line x1="872.8" y1="1147" x2="872.8" y2="1155.3" stroke="#4a413e" stroke-width="0.8" />
<line x1="879.8" y1="1147" x2="879.8" y2="1155.3" stroke="#4a413e" stroke-width="0.8" />
<line x1="883.6" y1="1147" x2="883.6" y2="1155.3" stroke="#4a413e" stroke-width="0.8" />
<rect x="902.4" y="1147" width="23.7" height="8.3" stroke="#231815" stroke-width="0.8" fill="none" />
<line x1="907" y1="1147" x2="907" y2="1155.3" stroke="#4a413e" stroke-width="0.8" />
<line x1="910.7" y1="1147" x2="910.7" y2="1155.3" stroke="#4a413e" stroke-width="0.8" />
<line x1="917.9" y1="1147" x2="917.9" y2="1155.3" stroke="#4a413e" stroke-width="0.8" />
<line x1="921.2" y1="1147" x2="921.2" y2="1155.3" stroke="#4a413e" stroke-width="0.8" />
<rect x="864.6" y="1158" width="24.2" height="8.3" stroke="#231815" stroke-width="0.8" fill="none" />
<line x1="869" y1="1158" x2="869" y2="1166.3" stroke="#4a413e" stroke-width="0.8" />
<line x1="872.8" y1="1158" x2="872.8" y2="1166.3" stroke="#4a413e" stroke-width="0.8" />
<line x1="879.8" y1="1158" x2="879.8" y2="1166.3" stroke="#4a413e" stroke-width="0.8" />
<line x1="883.6" y1="1158" x2="883.6" y2="1166.3" stroke="#4a413e" stroke-width="0.8" />
<rect x="902.4" y="1158" width="23.7" height="8.3" stroke="#231815" stroke-width="0.8" fill="none" />
<line x1="907" y1="1158" x2="907" y2="1166.3" stroke="#4a413e" stroke-width="0.8" />
<line x1="910.7" y1="1158" x2="910.7" y2="1166.3" stroke="#4a413e" stroke-width="0.8" />
<line x1="917.9" y1="1158" x2="917.9" y2="1166.3" stroke="#4a413e" stroke-width="0.8" />
<line x1="921.2" y1="1158" x2="921.2" y2="1166.3" stroke="#4a413e" stroke-width="0.8" />
<rect x="864.6" y="1169.2" width="24.2" height="8.5" stroke="#231815" stroke-width="0.8" fill="none" />
<line x1="869" y1="1169.2" x2="869" y2="1177.7" stroke="#4a413e" stroke-width="0.8" />
<line x1="872.8" y1="1169.2" x2="872.8" y2="1177.7" stroke="#4a413e" stroke-width="0.8" />
<line x1="879.8" y1="1169.2" x2="879.8" y2="1177.7" stroke="#4a413e" stroke-width="0.8" />
<line x1="883.6" y1="1169.2" x2="883.6" y2="1177.7" stroke="#4a413e" stroke-width="0.8" />
<rect x="902.4" y="1169.2" width="23.7" height="8.5" stroke="#231815" stroke-width="0.8" fill="none" />
<line x1="907" y1="1169.2" x2="907" y2="1177.7" stroke="#4a413e" stroke-width="0.8" />
<line x1="910.7" y1="1169.2" x2="910.7" y2="1177.7" stroke="#4a413e" stroke-width="0.8" />
<line x1="917.9" y1="1169.2" x2="917.9" y2="1177.7" stroke="#4a413e" stroke-width="0.8" />
<line x1="921.2" y1="1169.2" x2="921.2" y2="1177.7" stroke="#4a413e" stroke-width="0.8" />
<path d="M857.4,1232.3 L833,1232.3 Q831.2,1232.3 831.2,1234 L831.2,1239.2 L857.4,1239.2" stroke="#9a9492" stroke-width="0.9" fill="none" />
<path d="M831.2,1239.2 L827.2,1245 L835.5,1269.6 L831.7,1277.7 L962.6,1277.7 L967.7,1264.4 L959.2,1246 L962.6,1238.7" stroke="#231815" stroke-width="0.9" fill="none" />
<path d="M933,1229.5 L958.3,1229.5 L958.3,1225.4 L966.6,1225.4 L966.6,1238.7 L958.3,1238.7" stroke="#231815" stroke-width="0.9" fill="none" />
<line x1="933" y1="1237.4" x2="958.3" y2="1237.4" stroke="#231815" stroke-width="1.8" />
</svg></body></html>
